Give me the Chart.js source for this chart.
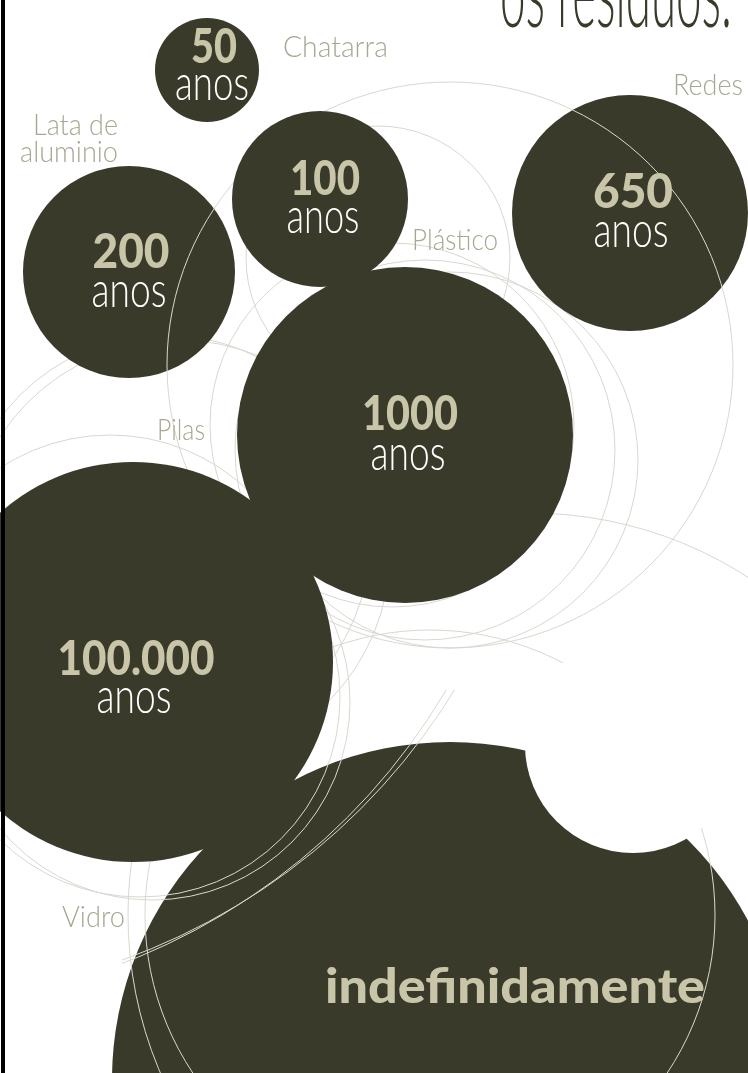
<!DOCTYPE html>
<html>
<head>
<meta charset="utf-8">
<script src="https://cdn.jsdelivr.net/npm/chart.js@4.4.1/dist/chart.umd.min.js"></script>
<style>
  html, body { margin: 0; padding: 0; background: #fff; }
  canvas { display: block; }
</style>
</head>
<body>
<canvas id="bubbles" width="748" height="1073"></canvas>
<script>
// bubbles: how long each residue takes
const durations = ["50", "200", "100", "650", "1000", "100.000", "indefinidamente"];
const bubbleX = [207, 129, 320, 630, 405, 133, 450];
const bubbleY = [70, 272, 199, 213, 435, 662, 1080];
const bubbleR = [52, 106, 88, 118, 168, 200, 338];

// material names
const materials = ["Chatarra", "Lata de", "aluminio", "Plástico", "Redes", "Pilas", "Vidro"];

// white "bite" out of the last bubble
const biteX = [633];
const biteY = [745];
const biteR = [108];

// thin decorative rings, under and over the dark bubbles
const ringsUnderX = [425, 392, 450, 110, 165, 178, 378];
const ringsUnderY = [450, 425, 460, 635, 540, 552, 258];
const ringsUnderR = [190, 182, 188, 200, 205, 212, 132];
const ringsOverX = [450, 140, 152, 530, 430];
const ringsOverY = [365, 697, 702, 915, 915];
const ringsOverR = [283, 200, 198, 402, 285];
// rings only seen across the lower bubble
const ringsLowX = [-108, -96];
const ringsLowY = [362, 352];
const ringsLowR = [644, 646];

const DARK = "#3a3a2b";
const NUM = "#c9c5a9";
const LABEL = "#a8a792";
const RING = "#d8d8d0";

function points(xs, ys, rs, idx) {
  const list = idx || xs.map((_, i) => i);
  return list.map((i) => ({ x: xs[i], y: ys[i], r: rs[i] }));
}

// which bubbles sit above the over-rings
const topBubbles = [0, 2, 4, 5];
const lowBubbles = [1, 3, 6];

// text layout (number/"anos" offsets from bubble centres)
const numberStyle = [
  { dx: 7, dy: -7, w: 46, anosDy: 30, anosW: 74 },
  { dx: 2, dy: -4, w: 77, anosDy: 35, anosW: 75 },
  { dx: 5, dy: -4, w: 70, anosDy: 34, anosW: 73 },
  { dx: 3, dy: -5, w: 80, anosDy: 34, anosW: 75 },
  { dx: 5, dy: -5, w: 96, anosDy: 35, anosW: 75 },
  { dx: 3, dy: 13, w: 157, anosDy: 51, anosW: 75 },
];
const labelStyle = [
  { x: 283, y: 57, w: 105, align: "left" },
  { x: 118, y: 135, w: 85, align: "right" },
  { x: 118, y: 162, w: 98, align: "right" },
  { x: 412, y: 250, w: 86, align: "left" },
  { x: 743, y: 95, w: 70, align: "right" },
  { x: 205, y: 440, w: 48, align: "right" },
  { x: 125, y: 927, w: 63, align: "right" },
];

function fitText(ctx, text, x, y, w, font, color, align) {
  ctx.save();
  ctx.font = font;
  ctx.fillStyle = color;
  ctx.textBaseline = "alphabetic";
  ctx.textAlign = align;
  const s = w / ctx.measureText(text).width;
  ctx.translate(x, y);
  ctx.scale(s, 1);
  ctx.fillText(text, 0, 0);
  ctx.restore();
}

// bubble controller that does not shrink the chart area for big radii
class FlatBubble extends Chart.BubbleController {
  getMaxOverflow() {
    return false;
  }
}
FlatBubble.id = "flatBubble";
FlatBubble.defaults = Chart.BubbleController.defaults;
Chart.register(FlatBubble);

const canvas = document.getElementById("bubbles");
const chart = new Chart(canvas, {
  type: "flatBubble",
  data: {
    datasets: [
      {
        label: "bite",
        data: points(biteX, biteY, biteR),
        backgroundColor: "#ffffff",
        borderWidth: 0,
        order: 1,
      },
      {
        label: "top",
        data: points(bubbleX, bubbleY, bubbleR, topBubbles),
        backgroundColor: DARK,
        borderWidth: 0,
        order: 2,
      },
      {
        label: "ringsOver",
        data: points(ringsOverX, ringsOverY, ringsOverR),
        backgroundColor: "rgba(0,0,0,0)",
        borderColor: RING,
        borderWidth: 1,
        order: 3,
      },
      {
        label: "ringsLow",
        data: points(ringsLowX, ringsLowY, ringsLowR),
        backgroundColor: "rgba(0,0,0,0)",
        borderColor: RING,
        borderWidth: 1,
        clip: { left: -122, top: -690, right: 0, bottom: 0 },
        order: 3,
      },
      {
        label: "low",
        data: points(bubbleX, bubbleY, bubbleR, lowBubbles),
        backgroundColor: DARK,
        borderWidth: 0,
        order: 4,
      },
      {
        label: "ringsUnder",
        data: points(ringsUnderX, ringsUnderY, ringsUnderR),
        backgroundColor: "rgba(0,0,0,0)",
        borderColor: RING,
        borderWidth: 1,
        order: 5,
      },
    ],
  },
  options: {
    responsive: false,
    animation: false,
    events: [],
    layout: { padding: 0 },
    scales: {
      x: { type: "linear", min: 0, max: 748, display: false },
      y: { type: "linear", min: 0, max: 1073, reverse: true, display: false },
    },
    plugins: {
      legend: { display: false },
      tooltip: { enabled: false },
    },
  },
  plugins: [
    {
      id: "paper",
      beforeDraw: (c) => {
        const { ctx } = c;
        ctx.save();
        ctx.fillStyle = "#ffffff";
        ctx.fillRect(0, 0, c.width, c.height);
        ctx.restore();
      },
      afterDraw: (c) => {
        const { ctx } = c;
        const sx = c.scales.x;
        const sy = c.scales.y;
        // numbers + "anos"
        for (let i = 0; i < 6; i++) {
          const st = numberStyle[i];
          const cx = sx.getPixelForValue(bubbleX[i]) + st.dx;
          const cy = sy.getPixelForValue(bubbleY[i]);
          fitText(ctx, durations[i], cx, cy + st.dy, st.w, "900 48px Lato", NUM, "center");
          fitText(ctx, "anos", cx - 2, cy + st.anosDy, st.anosW, "300 50px Lato", "#ffffff", "center");
        }
        fitText(ctx, durations[6], sx.getPixelForValue(bubbleX[6]) + 65,
          sy.getPixelForValue(bubbleY[6]) - 77, 380, "900 48px Lato", NUM, "center");
        // material labels
        materials.forEach((m, i) => {
          const st = labelStyle[i];
          fitText(ctx, m, st.x, st.y, st.w, "300 29px Lato", LABEL, st.align);
        });
        // title, cut off at the top
        fitText(ctx, "os resíduos:", 732, 27, 232, "300 96px Lato", "#3a3a2b", "right");
        // frame on the left
        ctx.save();
        ctx.fillStyle = "#000000";
        ctx.fillRect(1, 0, 4, c.height);
        ctx.restore();
      },
    },
  ],
});
</script>
</body>
</html>
